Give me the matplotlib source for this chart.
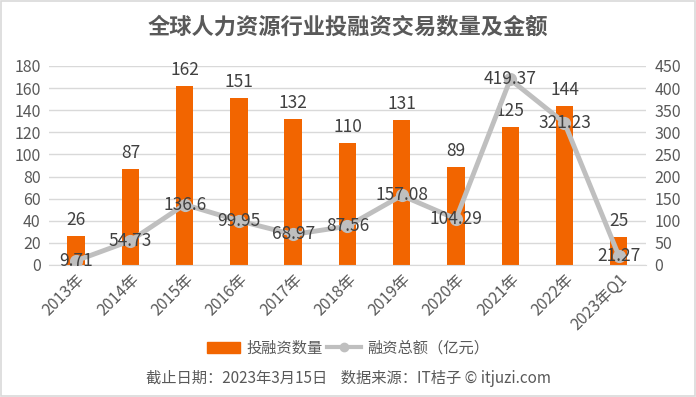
import matplotlib.pyplot as plt
import numpy as np
from matplotlib.patches import Rectangle, Patch
from matplotlib.lines import Line2D

plt.rcParams['font.family'] = ['Noto Sans CJK SC', 'DejaVu Sans']

years = ["2013年", "2014年", "2015年", "2016年", "2017年", "2018年",
         "2019年", "2020年", "2021年", "2022年", "2023年Q1"]
deal_count = [26, 87, 162, 151, 132, 110, 131, 89, 125, 144, 25]
amount = [9.71, 54.73, 136.6, 99.95, 68.97, 87.56, 157.08, 104.29, 419.37, 321.23, 21.27]

txt = "#595959"
orange = "#F26500"
grey = "#BFBFBF"

fig = plt.figure(figsize=(6.96, 3.97), dpi=100)
fig.patches.append(Rectangle((0.002, 0.003), 0.996, 0.994, transform=fig.transFigure,
                             fill=False, edgecolor="#D9D9D9", linewidth=1.2))

ax = fig.add_axes([0.0704, 0.3325, 0.8576, 0.5015])
ax2 = ax.twinx()

x = np.arange(len(years))
ax.bar(x, deal_count, 0.32, color=orange, zorder=2)
ax.set_xlim(-0.5, len(years) - 0.5)
ax.set_ylim(0, 180)
ax.set_yticks(range(0, 181, 20))
ax.grid(axis="y", color="#D9D9D9", linewidth=1, zorder=0)
ax.set_axisbelow(True)

ax2.plot(x, amount, color=grey, linewidth=3.5, marker="o", markersize=8.5, zorder=3)
ax2.set_ylim(0, 450)
ax2.set_yticks(range(0, 451, 50))

for a in (ax, ax2):
    for s in a.spines.values():
        s.set_visible(False)
    a.tick_params(length=0, labelsize=11.5, labelcolor=txt, pad=6)
ax.spines["bottom"].set_visible(True)
ax.spines["bottom"].set_color("#D9D9D9")

ax.set_xticks(x)
ax.set_xticklabels(years, rotation=45, ha="right", rotation_mode="anchor")
ax.tick_params(axis="x", pad=4)

for i, v in enumerate(deal_count):
    ax.annotate(str(v), (i, v), xytext=(0, 5), textcoords="offset points",
                ha="center", va="bottom", fontsize=12.5, color="#404040")
for i, v in enumerate(amount):
    ax2.text(i, v, f"{v:g}", ha="center", va="center", fontsize=12.5, color="#404040", zorder=4)

fig.text(0.5, 0.932, "全球人力资源行业投融资交易数量及金额", ha="center", va="center",
         fontsize=16, fontweight="bold", color=txt)

handles = [Patch(color=orange), Line2D([0], [0], color=grey, linewidth=3, marker="o", markersize=6)]
fig.legend(handles, ["投融资数量", "融资总额（亿元）"], loc="center", bbox_to_anchor=(0.5, 0.123),
           ncol=2, frameon=False, fontsize=11, labelcolor=txt, handlelength=2.2,
           columnspacing=0.3, handletextpad=0.4)

fig.text(0.5, 0.047, "截止日期：2023年3月15日    数据来源：IT桔子 © itjuzi.com", ha="center", va="center",
         fontsize=11, color=txt)

plt.savefig("out.png", dpi=100)
